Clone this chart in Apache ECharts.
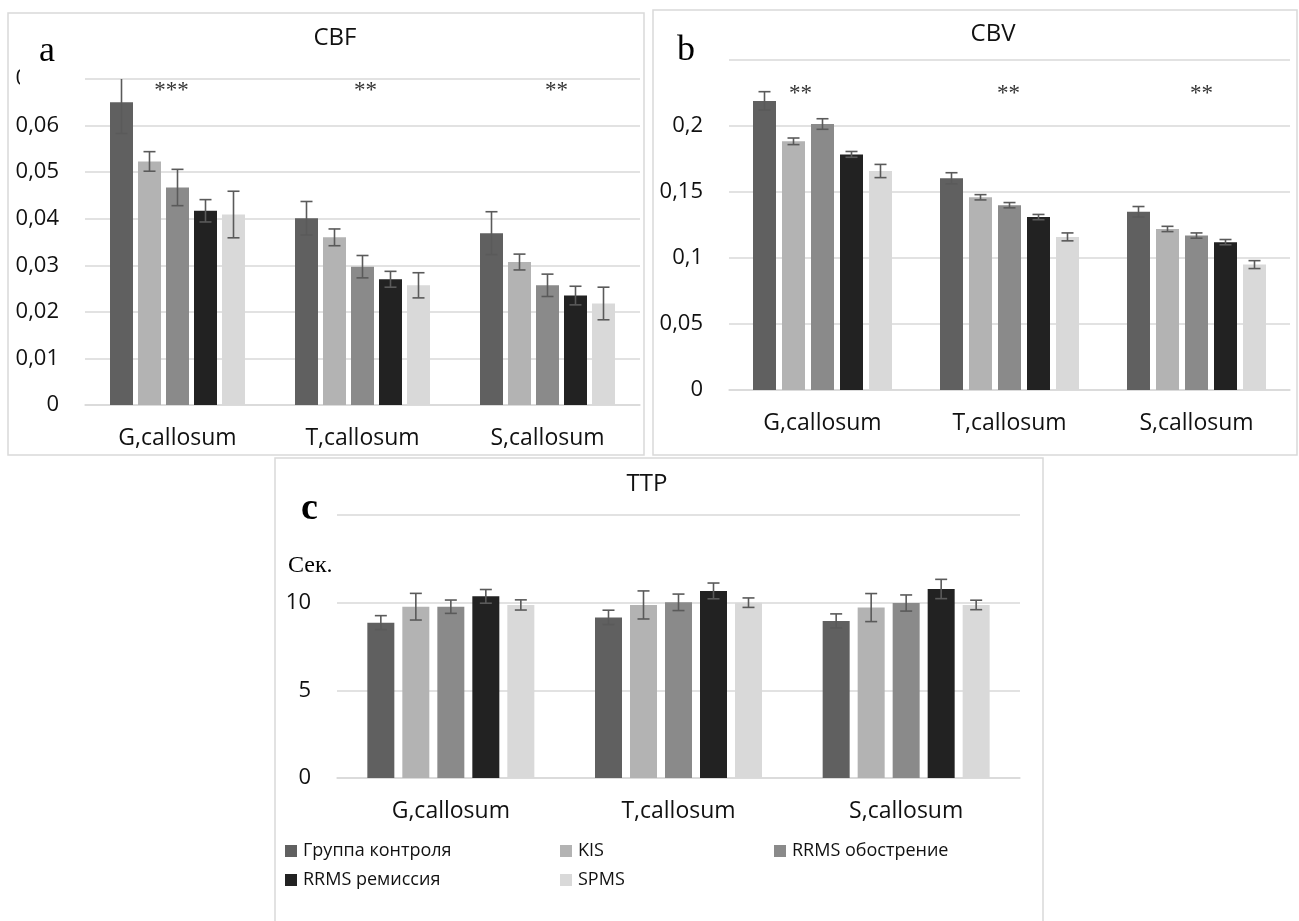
<!DOCTYPE html>
<html>
<head>
<meta charset="utf-8">
<script src="https://cdn.jsdelivr.net/npm/echarts@6/dist/echarts.min.js"></script>
<style>
html,body{margin:0;padding:0;background:#fff}
#chart{width:1299px;height:921px}
</style>
</head>
<body>
<div id="chart"></div>
<script>
// Regions of the corpus callosum and patient groups
const regions = ['G,callosum', 'T,callosum', 'S,callosum'];
const groups = ['Группа контроля', 'KIS', 'RRMS обострение', 'RRMS ремиссия', 'SPMS'];

// CBF: mean and error per group (rows) and region (columns)
const cbfMean = [
  [0.0650, 0.0401, 0.0369],
  [0.0523, 0.0360, 0.0307],
  [0.0467, 0.0297, 0.0257],
  [0.0417, 0.0270, 0.0235],
  [0.0409, 0.0257, 0.0218]
];
const cbfErr = [
  [0.0067, 0.0036, 0.0046],
  [0.0021, 0.0018, 0.0017],
  [0.0039, 0.0024, 0.0024],
  [0.0024, 0.0017, 0.0020],
  [0.0050, 0.0027, 0.0035]
];

// CBV
const cbvMean = [
  [0.219, 0.1604, 0.135],
  [0.1884, 0.146, 0.122],
  [0.2015, 0.140, 0.117],
  [0.1785, 0.131, 0.112],
  [0.1659, 0.116, 0.095]
];
const cbvErr = [
  [0.0070, 0.0042, 0.0040],
  [0.0025, 0.0020, 0.0020],
  [0.0040, 0.0020, 0.0020],
  [0.0022, 0.0020, 0.0020],
  [0.0050, 0.0030, 0.0030]
];

// TTP, seconds
const ttpMean = [
  [8.86, 9.16, 8.96],
  [9.77, 9.87, 9.72],
  [9.77, 10.02, 9.98],
  [10.36, 10.67, 10.78],
  [9.87, 10.00, 9.87]
];
const ttpErr = [
  [0.40, 0.41, 0.40],
  [0.76, 0.80, 0.80],
  [0.38, 0.47, 0.46],
  [0.39, 0.45, 0.55],
  [0.29, 0.27, 0.27]
];

// Significance marks per region
const cbfStars = ['***', '**', '**'];
const cbvStars = ['**', '**', '**'];
const cbfStarLevel = 0.0682;
const cbvStarLevel = 0.227;

// Y tick labels
const cbfTicks = ['0', '0,01', '0,02', '0,03', '0,04', '0,05', '0,06', '0,07'];
const cbvTicks = ['0', '0,05', '0,1', '0,15', '0,2', '0,25'];
const ttpTicks = ['0', '5', '10', '15'];

const groupColors = ['#606060', '#b3b3b3', '#8a8a8a', '#222222', '#d9d9d9'];
const SANS = '"Open Sans", "Noto Sans", sans-serif';
const SERIF = '"Liberation Serif", "DejaVu Serif", serif';
const GRID_COLOR = '#d9d9d9';
const TEXT_COLOR = '#111';

// panel layouts
const panels = [
  {grid: {left: 85, top: 79, width: 555, height: 326}, max: 0.07, step: 0.01, ticks: cbfTicks,
   mean: cbfMean, err: cbfErr, bw: 23, gap: 5, stars: cbfStars, starLevel: cbfStarLevel, starShift: [-6, 3, 9]},
  {grid: {left: 729, top: 60, width: 561, height: 330}, max: 0.25, step: 0.05, ticks: cbvTicks,
   mean: cbvMean, err: cbvErr, bw: 23, gap: 6, stars: cbvStars, starLevel: cbvStarLevel, starShift: [-22, -1, 5]},
  {grid: {left: 337, top: 515, width: 683, height: 263}, max: 15, step: 5, ticks: ttpTicks,
   mean: ttpMean, err: ttpErr, bw: 27, gap: 8, stars: null}
];

const grids = [], xAxes = [], yAxes = [], series = [];

panels.forEach((p, pi) => {
  grids.push(Object.assign({containLabel: false}, p.grid));
  xAxes.push({
    type: 'category', gridIndex: pi, data: regions,
    axisLine: {lineStyle: {color: GRID_COLOR, width: 1.5}},
    axisTick: {show: false},
    axisLabel: {fontFamily: SANS, fontSize: 23, color: TEXT_COLOR, margin: 22}
  });
  yAxes.push({
    type: 'value', gridIndex: pi, min: 0, max: p.max, interval: p.step,
    axisLine: {show: false}, axisTick: {show: false},
    splitLine: {lineStyle: {color: GRID_COLOR, width: 1.5}},
    axisLabel: {
      fontFamily: SANS, fontSize: 22, color: TEXT_COLOR, margin: 26,
      formatter: v => p.ticks[Math.round(v / p.step)]
    }
  });
  groups.forEach((g, gi) => {
    series.push({
      type: 'bar', name: g, xAxisIndex: pi, yAxisIndex: pi,
      data: p.mean[gi], barWidth: p.bw, barGap: (p.gap / p.bw * 100) + '%',
      itemStyle: {color: groupColors[gi]}, silent: true, z: 2
    });
  });
  // error bars
  const errData = [];
  groups.forEach((g, gi) => regions.forEach((r, ci) => {
    errData.push([ci, gi, p.mean[gi][ci], p.err[gi][ci]]);
  }));
  series.push({
    type: 'custom', xAxisIndex: pi, yAxisIndex: pi, silent: true, z: 4,
    encode: {x: 0, y: 2},
    data: errData,
    renderItem: (params, api) => {
      const ci = api.value(0), gi = api.value(1), m = api.value(2), e = api.value(3);
      const x = api.coord([ci, m])[0] + (gi - 2) * (p.bw + p.gap);
      const hi = Math.min(m + e, p.max);
      const yTop = api.coord([ci, hi])[1];
      const yBot = api.coord([ci, m - e])[1];
      const cap = 12;
      const st = {stroke: '#5a5a5a', lineWidth: 1.6};
      const ch = [
        {type: 'line', shape: {x1: x, y1: yTop, x2: x, y2: yBot}, style: st},
        {type: 'line', shape: {x1: x - cap / 2, y1: yBot, x2: x + cap / 2, y2: yBot}, style: st}
      ];
      if (m + e <= p.max) ch.push({type: 'line', shape: {x1: x - cap / 2, y1: yTop, x2: x + cap / 2, y2: yTop}, style: st});
      return {type: 'group', children: ch};
    }
  });
  // significance marks
  if (p.stars) {
    series.push({
      type: 'custom', xAxisIndex: pi, yAxisIndex: pi, silent: true, z: 5,
      encode: {x: 0, y: 1},
      data: p.stars.map((s, ci) => [ci, p.starLevel, s]),
      renderItem: (params, api) => {
        const ci = api.value(0);
        const pt = api.coord([ci, api.value(1)]);
        return {
          type: 'text', x: pt[0] + p.starShift[ci], y: pt[1] + 4,
          style: {text: p.stars[ci], fontFamily: SERIF, fontSize: 23, fill: '#333',
                  align: 'center', verticalAlign: 'middle'}
        };
      }
    });
  }
});

// legend, laid out in two rows
const legendSpots = [
  {left: 285, top: 839}, {left: 560, top: 839}, {left: 774, top: 839},
  {left: 285, top: 868}, {left: 560, top: 868}
];
const legends = groups.map((g, gi) => Object.assign({
  data: [{name: g, icon: 'rect'}],
  orient: 'horizontal', padding: 0, itemWidth: 12, itemHeight: 12, selectedMode: false,
  textStyle: {fontFamily: SANS, fontSize: 18, color: TEXT_COLOR, lineHeight: 24, padding: [0, 0, 0, 1]}
}, legendSpots[gi]));

const boxStyle = {fill: 'none', stroke: GRID_COLOR, lineWidth: 1.5};
const graphic = [
  // panel frames
  {type: 'rect', shape: {x: 8, y: 13, width: 636, height: 442}, style: boxStyle, silent: true, z: 0},
  {type: 'rect', shape: {x: 653, y: 10, width: 644, height: 445}, style: boxStyle, silent: true, z: 0},
  {type: 'rect', shape: {x: 275, y: 458, width: 768, height: 480}, style: boxStyle, silent: true, z: 0},
  // titles
  {type: 'text', x: 335, y: 38, style: {text: 'CBF', fontFamily: SANS, fontSize: 24, fill: TEXT_COLOR, align: 'center', verticalAlign: 'middle'}, z: 50},
  {type: 'text', x: 993, y: 34, style: {text: 'CBV', fontFamily: SANS, fontSize: 24, fill: TEXT_COLOR, align: 'center', verticalAlign: 'middle'}, z: 50},
  {type: 'text', x: 647, y: 484, style: {text: 'TTP', fontFamily: SANS, fontSize: 24, fill: TEXT_COLOR, align: 'center', verticalAlign: 'middle'}, z: 50},
  // panel letters in white boxes
  {type: 'rect', shape: {x: 20, y: 28, width: 55, height: 70}, style: {fill: '#fff'}, silent: true, z: 60},
  {type: 'text', x: 39, y: 52, style: {text: 'a', fontFamily: SERIF, fontSize: 36, fill: '#000', align: 'left', verticalAlign: 'middle'}, z: 61},
  {type: 'rect', shape: {x: 656, y: 25, width: 62, height: 60}, style: {fill: '#fff'}, silent: true, z: 60},
  {type: 'text', x: 677, y: 51, style: {text: 'b', fontFamily: SERIF, fontSize: 36, fill: '#000', align: 'left', verticalAlign: 'middle'}, z: 61},
  {type: 'rect', shape: {x: 279, y: 490, width: 52, height: 48}, style: {fill: '#fff'}, silent: true, z: 60},
  {type: 'text', x: 301, y: 509, style: {text: 'c', fontFamily: SERIF, fontSize: 38, fontWeight: 'bold', fill: '#000', align: 'left', verticalAlign: 'middle'}, z: 61},
  {type: 'text', x: 288, y: 566, style: {text: 'Сек.', fontFamily: SERIF, fontSize: 24, fill: '#000', align: 'left', verticalAlign: 'middle'}, z: 61}
];

const chart = echarts.init(document.getElementById('chart'), null, {renderer: 'canvas'});
chart.setOption({
  animation: false,
  backgroundColor: '#fff',
  grid: grids,
  xAxis: xAxes,
  yAxis: yAxes,
  legend: legends,
  series: series,
  graphic: graphic
});
</script>
</body>
</html>
